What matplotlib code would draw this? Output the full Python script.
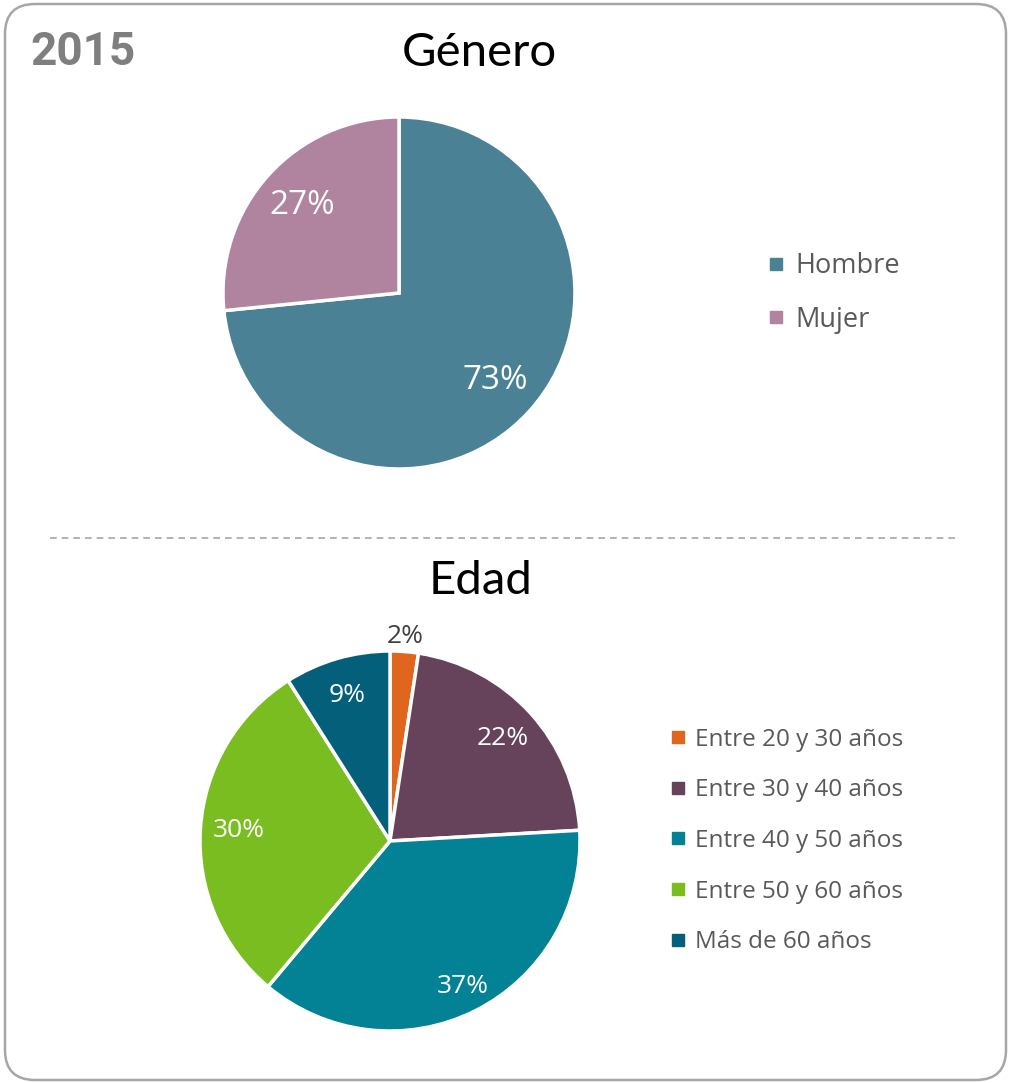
import matplotlib.pyplot as plt
from matplotlib.patches import FancyBboxPatch
from matplotlib.lines import Line2D

# data
year = "2015"
genero_labels = ["Hombre", "Mujer"]
genero_values = [73.4, 26.6]
genero_colors = ["#4a8194", "#b0839e"]

edad_labels = ["Entre 20 y 30 años", "Entre 30 y 40 años", "Entre 40 y 50 años",
               "Entre 50 y 60 años", "Más de 60 años"]
edad_values = [2.4, 21.7, 37.0, 29.9, 9.0]
edad_colors = ["#e0651f", "#66425b", "#038195", "#79bd21", "#04607a"]

W, H = 1010, 1083
fig = plt.figure(figsize=(W / 100, H / 100), dpi=100)

# background axes in pixel coordinates
bg = fig.add_axes([0, 0, 1, 1])
bg.set_xlim(0, W)
bg.set_ylim(H, 0)
bg.axis("off")
bg.add_patch(FancyBboxPatch((5, 4), 1001, 1076, boxstyle="round,pad=0,rounding_size=30",
                            fc="white", ec="#a6a6a6", lw=1.8))
bg.plot([50, 955], [538, 538], color="#a6a6a6", lw=1.2, ls=(0, (4, 3)))
bg.text(30, 52, year, fontsize=33, fontweight="bold", color="#7f7f7f",
        family="Roboto", va="center", ha="left")
bg.text(479, 53, "Género", fontsize=34, color="black",
        family="Lato", va="center", ha="center")
bg.text(481, 581, "Edad", fontsize=34, color="black",
        family="Lato", va="center", ha="center")


def pie_axes(cx, cy, r):
    return fig.add_axes([(cx - r) / W, (H - cy - r) / H, 2 * r / W, 2 * r / H])


def fmt(v):
    return "%.0f%%" % v


# Género pie
ax1 = pie_axes(399, 293, 176)
w1, t1, a1 = ax1.pie(genero_values, colors=genero_colors, startangle=90, counterclock=False,
                     autopct=fmt, pctdistance=0.74,
                     wedgeprops=dict(edgecolor="white", linewidth=2.5),
                     textprops=dict(color="white", fontsize=24, family="Open Sans"))
ax1.set_xlim(-1, 1)
ax1.set_ylim(-1, 1)

handles1 = [Line2D([], [], marker="s", ls="", ms=8.5, mfc=c, mec=c) for c in genero_colors]
fig.legend(handles1, genero_labels, loc="center left", bbox_to_anchor=(753 / W, 1 - 293 / H),
           frameon=False, labelcolor="#595959", handlelength=0.7,
           handletextpad=0.35, labelspacing=0.95, borderpad=0,
           prop=dict(family="Open Sans", size=19.5))

# Edad pie
ax2 = pie_axes(390, 841, 190)
w2, t2, a2 = ax2.pie(edad_values, colors=edad_colors, startangle=90, counterclock=False,
                     autopct=fmt, pctdistance=0.8,
                     wedgeprops=dict(edgecolor="white", linewidth=2.5),
                     textprops=dict(color="white", fontsize=19, family="Open Sans"))
ax2.set_xlim(-1, 1)
ax2.set_ylim(-1, 1)
# smallest slice label sits outside the pie, the largest a bit further out
x0, y0 = a2[0].get_position()
a2[0].set_position((x0 * 1.35, y0 * 1.35))
a2[0].set_color("#404040")
x2, y2 = a2[2].get_position()
a2[2].set_position((x2 * 1.07, y2 * 1.07))

handles2 = [Line2D([], [], marker="s", ls="", ms=8, mfc=c, mec=c) for c in edad_colors]
fig.legend(handles2, edad_labels, loc="center left", bbox_to_anchor=(657 / W, 1 - 841 / H),
           frameon=False, labelcolor="#595959", handlelength=0.7,
           handletextpad=0.35, labelspacing=1.1, borderpad=0,
           prop=dict(family="Open Sans", size=17.5))

fig.savefig("out.png", dpi=100)
